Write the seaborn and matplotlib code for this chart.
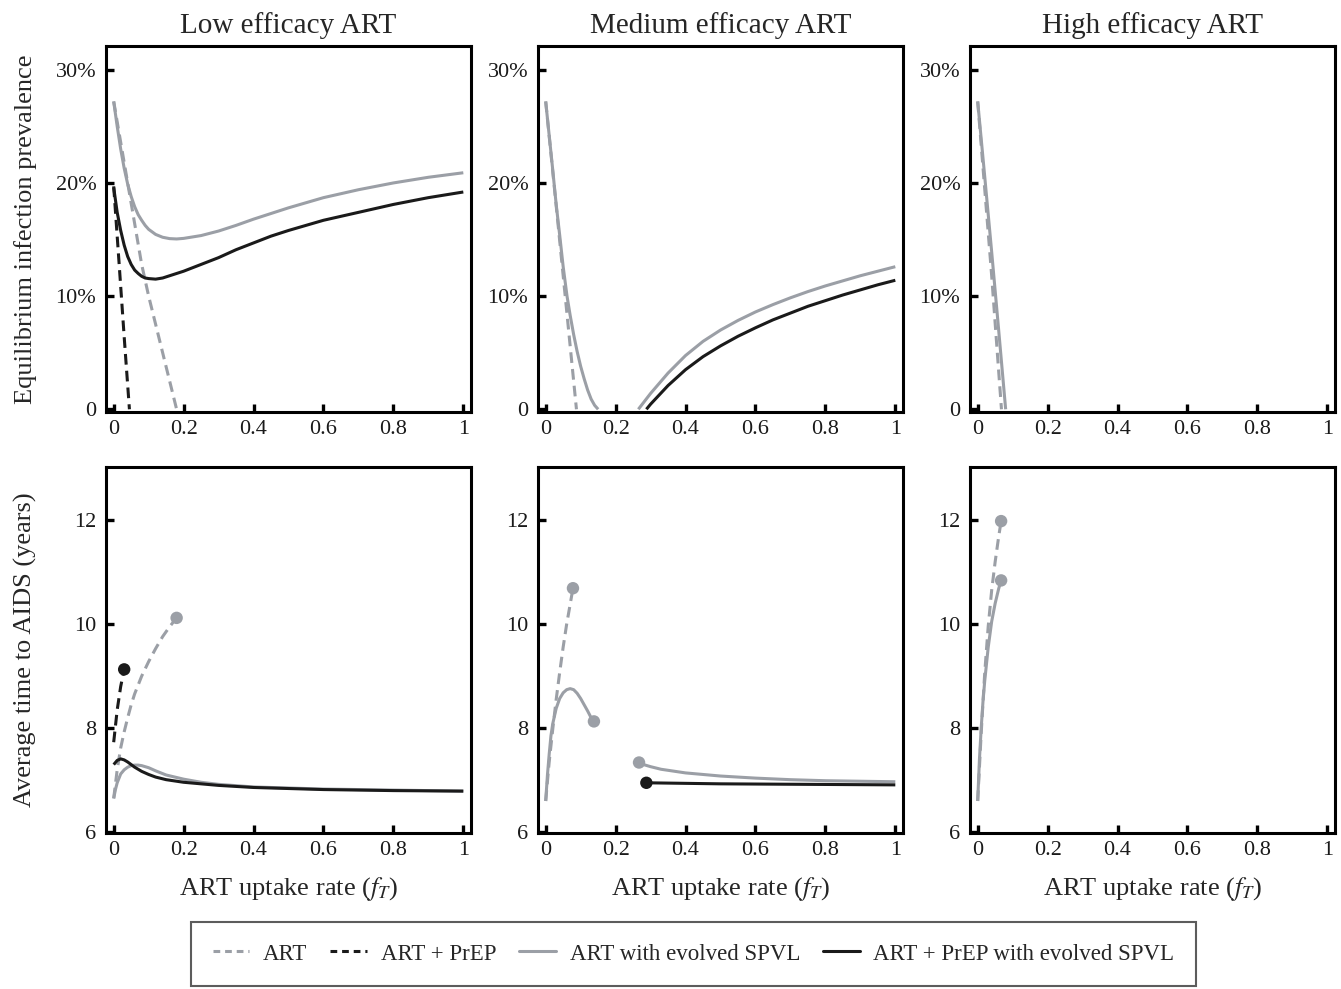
import numpy as np
import pandas as pd
import matplotlib
matplotlib.use("Agg")
import matplotlib.pyplot as plt
import seaborn as sns
from matplotlib.lines import Line2D

sns.set_theme(style="white")
plt.rcParams["font.family"] = ["Liberation Serif", "DejaVu Serif"]
plt.rcParams["mathtext.fontset"] = "stix"

GRAY = "#9b9fa6"
BLACK = "#1a1a1a"

# ---------------- text ----------------
col_titles = ["Low efficacy ART", "Medium efficacy ART", "High efficacy ART"]
ylabel_top = "Equilibrium infection prevalence"
ylabel_bottom = "Average time to AIDS (years)"
xlabel = r"ART uptake rate ($f_T$)"
legend_labels = ["ART", "ART + PrEP", "ART with evolved SPVL", "ART + PrEP with evolved SPVL"]

x_ticks = [0, 0.2, 0.4, 0.6, 0.8, 1.0]
x_tick_labels = ["0", "0.2", "0.4", "0.6", "0.8", "1"]
prev_ticks = [0, 0.10, 0.20, 0.30]
prev_tick_labels = ["0", "10%", "20%", "30%"]
aids_ticks = [6, 8, 10, 12]
aids_tick_labels = ["6", "8", "10", "12"]

# ---------------- data: prevalence (%) ----------------
# Low efficacy
low_prev_art_x = [0, 0.02, 0.04, 0.06, 0.08, 0.10, 0.12, 0.14, 0.16, 0.18]
low_prev_art_y = [27.2, 23.6, 20.0, 16.4, 12.8, 10.0, 7.5, 5.0, 2.5, 0.0]
low_prev_prep_x = [0, 0.015, 0.03, 0.045]
low_prev_prep_y = [19.7, 13.1, 6.4, 0.0]
low_prev_evo_x = [0, 0.01, 0.02, 0.03, 0.04, 0.05, 0.06, 0.07, 0.08, 0.09, 0.10, 0.12, 0.14, 0.16,
                  0.18, 0.20, 0.25, 0.30, 0.35, 0.40, 0.45, 0.50, 0.60, 0.70, 0.80, 0.90, 1.0]
low_prev_evo_y = [27.2, 25.0, 23.0, 21.3, 19.9, 18.8, 17.9, 17.2, 16.7, 16.25, 15.9, 15.45, 15.2, 15.08,
                  15.05, 15.1, 15.35, 15.75, 16.25, 16.8, 17.3, 17.8, 18.7, 19.4, 20.0, 20.5, 20.9]
low_prev_prepevo_x = [0, 0.01, 0.02, 0.03, 0.04, 0.05, 0.06, 0.07, 0.08, 0.09, 0.10, 0.12, 0.14, 0.16,
                      0.18, 0.20, 0.25, 0.30, 0.35, 0.40, 0.45, 0.50, 0.60, 0.70, 0.80, 0.90, 1.0]
low_prev_prepevo_y = [19.6, 17.4, 15.8, 14.5, 13.5, 12.8, 12.3, 12.0, 11.75, 11.6, 11.55, 11.5, 11.6, 11.8,
                      12.0, 12.2, 12.8, 13.4, 14.1, 14.7, 15.3, 15.8, 16.7, 17.4, 18.1, 18.7, 19.2]

# Medium efficacy
med_prev_art_x = [0, 0.03, 0.06, 0.088]
med_prev_art_y = [27.2, 18.0, 8.7, 0.0]
med_prev_evo1_x = [0, 0.01, 0.02, 0.03, 0.04, 0.05, 0.061, 0.07, 0.08, 0.09, 0.10, 0.11, 0.12, 0.13, 0.14, 0.15]
med_prev_evo1_y = [27.2, 24.2, 21.2, 18.1, 15.4, 12.6, 10.0, 8.3, 6.6, 5.1, 3.8, 2.7, 1.7, 0.9, 0.35, 0.0]
med_prev_evo2_x = [0.265, 0.30, 0.35, 0.40, 0.45, 0.50, 0.55, 0.60, 0.65, 0.70, 0.75, 0.80, 0.85, 0.90, 0.95, 1.0]
med_prev_evo2_y = [0.0, 1.4, 3.2, 4.75, 6.0, 7.0, 7.85, 8.6, 9.25, 9.85, 10.4, 10.9, 11.35, 11.8, 12.2, 12.6]
med_prev_prepevo_x = [0.288, 0.30, 0.35, 0.40, 0.45, 0.50, 0.55, 0.60, 0.65, 0.70, 0.75, 0.80, 0.85, 0.90, 0.95, 1.0]
med_prev_prepevo_y = [0.0, 0.45, 2.1, 3.5, 4.65, 5.6, 6.45, 7.2, 7.9, 8.5, 9.1, 9.6, 10.1, 10.55, 11.0, 11.4]

# High efficacy
high_prev_art_x = [0, 0.02, 0.04, 0.068]
high_prev_art_y = [27.2, 19.5, 11.8, 0.0]
high_prev_evo_x = [0, 0.02, 0.04, 0.06, 0.08]
high_prev_evo_y = [27.2, 20.6, 13.9, 7.0, 0.0]

# ---------------- data: time to AIDS (years) ----------------
low_aids_art_x = [0, 0.01, 0.02, 0.03, 0.04, 0.05, 0.06, 0.08, 0.10, 0.12, 0.14, 0.16, 0.18]
low_aids_art_y = [6.65, 7.2, 7.62, 7.93, 8.2, 8.45, 8.66, 9.0, 9.28, 9.53, 9.76, 9.95, 10.12]
low_aids_prep_x = [0, 0.01, 0.02, 0.03]
low_aids_prep_y = [7.73, 8.35, 8.8, 9.13]
low_aids_evo_x = [0, 0.005, 0.01, 0.02, 0.03, 0.04, 0.05, 0.06, 0.07, 0.08, 0.10, 0.12, 0.15, 0.20,
                  0.25, 0.30, 0.40, 0.50, 0.60, 0.80, 1.0]
low_aids_evo_y = [6.65, 6.82, 6.95, 7.12, 7.2, 7.25, 7.28, 7.29, 7.29, 7.28, 7.24, 7.18, 7.1, 7.02,
                  6.96, 6.92, 6.87, 6.85, 6.83, 6.81, 6.79]
low_aids_prepevo_x = [0, 0.01, 0.02, 0.03, 0.04, 0.05, 0.06, 0.08, 0.10, 0.12, 0.15, 0.20, 0.25, 0.30,
                      0.40, 0.50, 0.60, 0.80, 1.0]
low_aids_prepevo_y = [7.3, 7.38, 7.41, 7.39, 7.35, 7.3, 7.25, 7.17, 7.11, 7.06, 7.01, 6.96, 6.93, 6.9,
                      6.86, 6.84, 6.82, 6.8, 6.79]

med_aids_art_x = [0, 0.01, 0.02, 0.03, 0.04, 0.05, 0.06, 0.07, 0.078]
med_aids_art_y = [6.6, 7.35, 7.97, 8.55, 9.07, 9.56, 10.0, 10.38, 10.69]
med_aids_evo1_x = [0, 0.005, 0.01, 0.015, 0.02, 0.03, 0.04, 0.05, 0.06, 0.07, 0.08, 0.09, 0.10, 0.11,
                   0.12, 0.13, 0.138]
med_aids_evo1_y = [6.6, 7.1, 7.5, 7.85, 8.08, 8.38, 8.57, 8.68, 8.74, 8.76, 8.74, 8.67, 8.57, 8.45,
                   8.33, 8.2, 8.13]
med_aids_evo2_x = [0.267, 0.28, 0.30, 0.33, 0.36, 0.40, 0.45, 0.50, 0.60, 0.70, 0.80, 0.90, 1.0]
med_aids_evo2_y = [7.34, 7.3, 7.26, 7.21, 7.18, 7.14, 7.11, 7.08, 7.04, 7.01, 6.99, 6.98, 6.97]
med_aids_prepevo_x = [0.288, 0.50, 0.75, 1.0]
med_aids_prepevo_y = [6.95, 6.93, 6.92, 6.91]

high_aids_art_x = [0, 0.01, 0.02, 0.03, 0.04, 0.05, 0.06, 0.067]
high_aids_art_y = [6.6, 7.9, 9.05, 9.95, 10.65, 11.2, 11.68, 11.98]
high_aids_evo_x = [0, 0.005, 0.01, 0.015, 0.02, 0.03, 0.04, 0.05, 0.06, 0.067]
high_aids_evo_y = [6.6, 7.4, 8.0, 8.5, 8.9, 9.55, 10.05, 10.4, 10.68, 10.84]

# ---------------- figure ----------------
W, H = 1341, 989
fig = plt.figure(figsize=(W / 100, H / 100), dpi=100)

col_left = [106, 538, 970]
col_w = 365
row_top = [46, 467]
row_h = 366


def make_ax(r, c):
    l = col_left[c] / W
    b = 1 - (row_top[r] + row_h) / H
    return fig.add_axes([l, b, col_w / W, row_h / H])


LW = 2.2
DASH = (0, (3.5, 2.0))


def pct(v):
    return [a / 100.0 for a in v]


def line(ax, x, y, color, dashed=False):
    sns.lineplot(x=x, y=y, ax=ax, color=color, linewidth=LW, estimator=None, sort=False,
                 linestyle=DASH if dashed else "-", solid_capstyle="butt", dash_capstyle="butt",
                 solid_joinstyle="round")


def dot(ax, x, y, color):
    sns.scatterplot(x=[x], y=[y], ax=ax, color=color, s=80, edgecolor="none", zorder=5)


axes = [[make_ax(r, c) for c in range(3)] for r in range(2)]

# top row
ax = axes[0][0]
line(ax, low_prev_art_x, pct(low_prev_art_y), GRAY, True)
line(ax, low_prev_prep_x, pct(low_prev_prep_y), BLACK, True)
line(ax, low_prev_evo_x, pct(low_prev_evo_y), GRAY)
line(ax, low_prev_prepevo_x, pct(low_prev_prepevo_y), BLACK)

ax = axes[0][1]
line(ax, med_prev_art_x, pct(med_prev_art_y), GRAY, True)
line(ax, med_prev_evo1_x, pct(med_prev_evo1_y), GRAY)
line(ax, med_prev_evo2_x, pct(med_prev_evo2_y), GRAY)
line(ax, med_prev_prepevo_x, pct(med_prev_prepevo_y), BLACK)

ax = axes[0][2]
line(ax, high_prev_evo_x, pct(high_prev_evo_y), GRAY)
line(ax, high_prev_art_x, pct(high_prev_art_y), GRAY, True)

# bottom row
ax = axes[1][0]
line(ax, low_aids_art_x, low_aids_art_y, GRAY, True)
line(ax, low_aids_prep_x, low_aids_prep_y, BLACK, True)
line(ax, low_aids_evo_x, low_aids_evo_y, GRAY)
line(ax, low_aids_prepevo_x, low_aids_prepevo_y, BLACK)
dot(ax, low_aids_art_x[-1], low_aids_art_y[-1], GRAY)
dot(ax, low_aids_prep_x[-1], low_aids_prep_y[-1], BLACK)

ax = axes[1][1]
line(ax, med_aids_art_x, med_aids_art_y, GRAY, True)
line(ax, med_aids_evo1_x, med_aids_evo1_y, GRAY)
line(ax, med_aids_evo2_x, med_aids_evo2_y, GRAY)
line(ax, med_aids_prepevo_x, med_aids_prepevo_y, BLACK)
dot(ax, med_aids_art_x[-1], med_aids_art_y[-1], GRAY)
dot(ax, med_aids_evo1_x[-1], med_aids_evo1_y[-1], GRAY)
dot(ax, med_aids_evo2_x[0], med_aids_evo2_y[0], GRAY)
dot(ax, med_aids_prepevo_x[0], med_aids_prepevo_y[0], BLACK)

ax = axes[1][2]
line(ax, high_aids_evo_x, high_aids_evo_y, GRAY)
line(ax, high_aids_art_x, high_aids_art_y, GRAY, True)
dot(ax, high_aids_art_x[-1], high_aids_art_y[-1], GRAY)
dot(ax, high_aids_evo_x[-1], high_aids_evo_y[-1], GRAY)

for r in range(2):
    for c in range(3):
        ax = axes[r][c]
        ax.set_xlim(-0.022, 1.022)
        ax.set_xticks(x_ticks)
        ax.set_xticklabels(x_tick_labels)
        if r == 0:
            ax.set_ylim(-0.0024, 0.321)
            ax.set_yticks(prev_ticks)
            ax.set_yticklabels(prev_tick_labels)
            ax.set_title(col_titles[c], fontsize=21, pad=9)
        else:
            ax.set_ylim(5.985, 13.02)
            ax.set_yticks(aids_ticks)
            ax.set_yticklabels(aids_tick_labels)
        ax.set_xlabel("")
        ax.set_ylabel("")
        for s in ax.spines.values():
            s.set_linewidth(2.2)
            s.set_color("black")
            s.set_visible(True)
        ax.tick_params(axis="both", direction="in", length=6, width=2.4, color="black",
                       labelsize=16, bottom=True, left=True, top=False, right=False,
                       labelcolor="#1a1a1a")
        ax.tick_params(axis="x", pad=6)
        ax.tick_params(axis="y", pad=7)

axes[0][0].set_ylabel(ylabel_top, fontsize=19)
axes[0][0].yaxis.set_label_coords(-0.19, 0.5)
axes[1][0].set_ylabel(ylabel_bottom, fontsize=19)
axes[1][0].yaxis.set_label_coords(-0.19, 0.5)
for c in range(3):
    axes[1][c].set_xlabel(xlabel, fontsize=19)
    axes[1][c].xaxis.set_label_coords(0.5, -0.115)

handles = [
    Line2D([], [], color=GRAY, lw=LW, linestyle=(0, (2.2, 1.6))),
    Line2D([], [], color=BLACK, lw=LW, linestyle=(0, (2.2, 1.6))),
    Line2D([], [], color=GRAY, lw=LW),
    Line2D([], [], color=BLACK, lw=LW),
]
leg = fig.legend(handles, legend_labels, loc="center", bbox_to_anchor=(693.5 / W, 1 - 954 / H),
                 ncol=4, frameon=True, fancybox=False, fontsize=16.5, handlelength=1.6,
                 handletextpad=0.6, columnspacing=1.0, borderpad=0.95)
leg.get_frame().set_edgecolor("#333333")
leg.get_frame().set_linewidth(1.5)

fig.savefig("out.png", dpi=100)
